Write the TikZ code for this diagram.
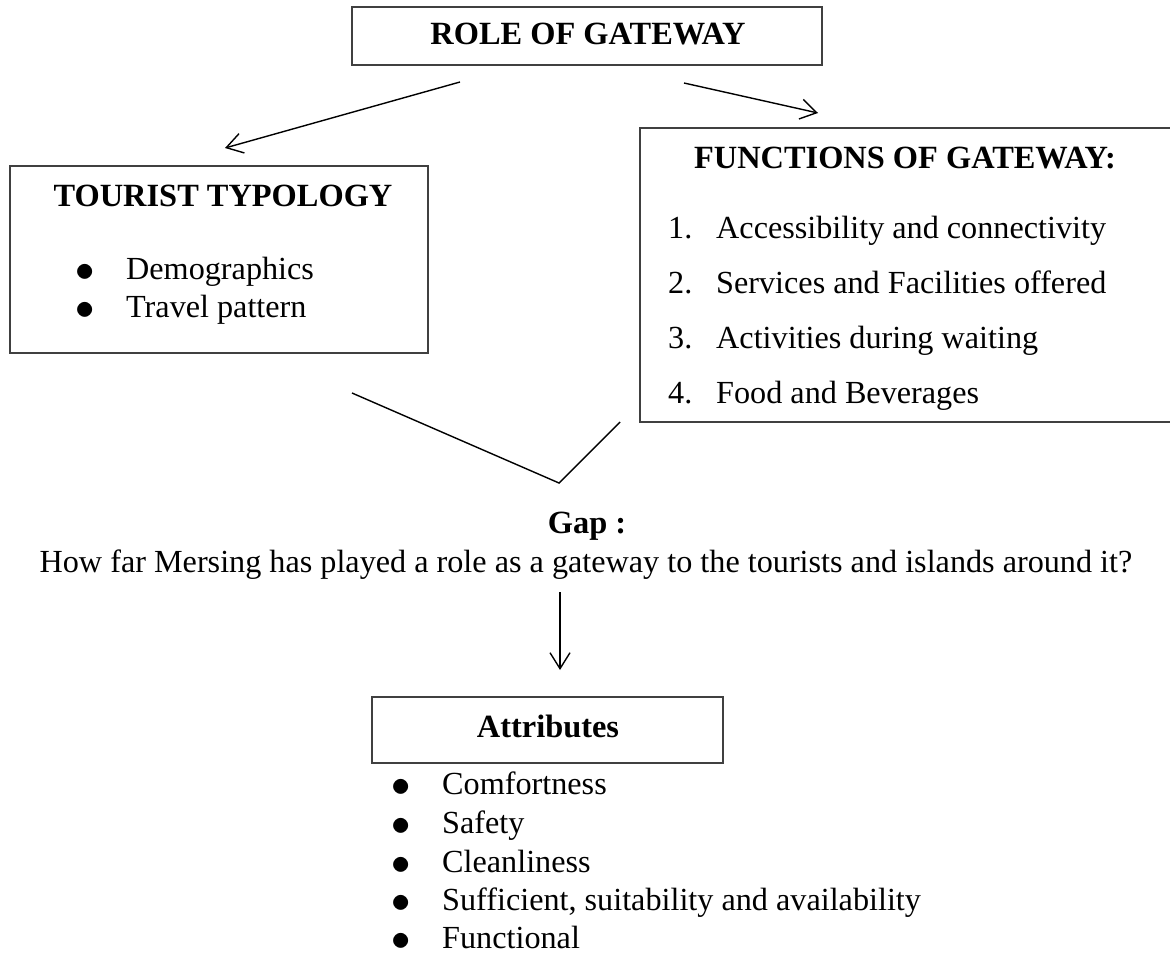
\documentclass[tikz,border=0pt]{standalone}
\usepackage{fontspec}
\setmainfont{Liberation Serif}
\usetikzlibrary{arrows.meta,positioning}
\tikzset{frame/.style={draw=black!75,line width=1.6pt,inner sep=0pt}}
\tikzset{head/.style={font=\fontsize{32.4}{38}\selectfont\bfseries,inner sep=0pt,anchor=base}}
\tikzset{entry/.style={font=\fontsize{32.2}{38}\selectfont,inner sep=0pt,anchor=base west}}
\tikzset{dot/.style={font=\fontsize{32.2}{38}\selectfont,inner sep=0pt,anchor=base}}
\tikzset{link/.style={draw,line width=1.4pt,-{Straight Barb[length=16pt,width=20pt]}}}
\tikzset{edge/.style={draw,line width=1.4pt}}
\newcommand{\bigdot}{\scalebox{1.55}{$\bullet$}}

\begin{document}
\begin{tikzpicture}[x=1pt,y=-1pt]
    \useasboundingbox (0,0) rectangle (1170,955);

    % boxes
    \node[frame,minimum width=470pt,minimum height=58pt] (role) at (587,36) {};
    \node[frame,minimum width=418pt,minimum height=187pt] (tourist) at (219,259.5) {};
    \node[frame,minimum width=540pt,minimum height=294pt] (func) at (910,275) {};
    \node[frame,minimum width=351pt,minimum height=66pt] (attr) at (547.5,730) {};

    % titles
    \node[head] (roletxt) at (588,45) {ROLE OF GATEWAY};
    \node[head] (touristtxt) at (223,206) {TOURIST TYPOLOGY};
    \node[head] (functxt) at (905,168) {FUNCTIONS OF GATEWAY:};
    \node[head] (attrtxt) at (548,737) {Attributes};

    % tourist typology
    \node[dot] (td1) at (85.5,281) {\bigdot};
    \node[entry] (t1) at (126,279) {Demographics};
    \node[dot] (td2) at (85.5,319) {\bigdot};
    \node[entry] (t2) at (126,317) {Travel pattern};

    % functions
    \node[entry] (fn1) at (668,238) {1.};
    \node[entry] (f1) at (716,238) {Accessibility and connectivity};
    \node[entry] (fn2) at (668,293) {2.};
    \node[entry] (f2) at (716,293) {Services and Facilities offered};
    \node[entry] (fn3) at (668,348) {3.};
    \node[entry] (f3) at (716,348) {Activities during waiting};
    \node[entry] (fn4) at (668,403) {4.};
    \node[entry] (f4) at (716,403) {Food and Beverages};

    % gap
    \node[head] (gap) at (587,533) {Gap :};
    \node[entry,anchor=base] (quest) at (586,572) {How far Mersing has played a role as a gateway to the tourists and islands around it?};

    % attributes
    \node[dot] (ad1) at (401,796) {\bigdot};
    \node[entry] (a1) at (442,794) {Comfortness};
    \node[dot] (ad2) at (401,835) {\bigdot};
    \node[entry] (a2) at (442,833) {Safety};
    \node[dot] (ad3) at (401,874) {\bigdot};
    \node[entry] (a3) at (442,872) {Cleanliness};
    \node[dot] (ad4) at (401,912) {\bigdot};
    \node[entry] (a4) at (442,910) {Sufficient, suitability and availability};
    \node[dot] (ad5) at (401,950) {\bigdot};
    \node[entry] (a5) at (442,948) {Functional};

    % connector ends
    \coordinate (rl) at (460,82);
    \coordinate (tl) at (225,148);
    \coordinate (rr) at (684,83);
    \coordinate (fr) at (818,113);
    \coordinate (tv) at (352,393);
    \coordinate (vv) at (559,483);
    \coordinate (fv) at (620,422);
    \coordinate (qd) at (560,592);
    \coordinate (ad) at (560,670);

        \path[link] (rl) -- (tl);
        \path[link] (rr) -- (fr);
        \path[edge] (tv) -- (vv) -- (fv);
        \path[link] (qd) -- (ad);
\end{tikzpicture}
\end{document}
